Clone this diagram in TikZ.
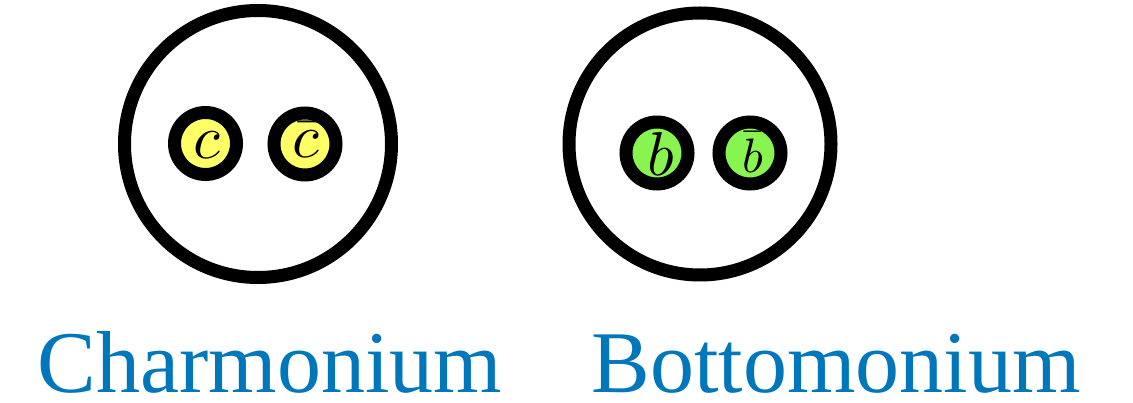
\documentclass[tikz,border=0pt]{standalone}
\usepackage{fontspec}
\setmainfont{Liberation Serif}
\definecolor{qyellow}{HTML}{FFFF66}
\definecolor{qgreen}{HTML}{88F450}
\definecolor{lblue}{HTML}{0077BB}
\begin{document}
\begin{tikzpicture}[x=1pt,y=-1pt,
  meson/.style={circle,draw=black,line width=13pt,fill=white,inner sep=0pt},
  quark/.style={circle,draw=black,line width=13pt,inner sep=0pt,minimum size=62pt},
  qlabel/.style={inner sep=0pt,scale=6.2},
  title/.style={anchor=base,text=lblue,inner sep=0pt,text depth=0pt,font=\fontsize{88}{90}\selectfont}]
\useasboundingbox (0,0) rectangle (1133,403);
\node[meson,minimum size=267pt] (charm) at (258,144) {};
\node[meson,minimum size=262pt] (bottom) at (700,144) {};
\node[quark,fill=qyellow] (c1) at (205.5,143.5) {};
\node[quark,fill=qyellow] (c2) at (305,144) {};
\node[quark,fill=qgreen] (b1) at (657,153) {};
\node[quark,fill=qgreen] (b2) at (750,153) {};
\node[qlabel] (lc1) at (207,145) {$c$};
\node[qlabel] (lc2) at (306,140) {$\bar{c}$};
\node[qlabel] (lb1) at (661,154) {$b$};
\node[qlabel,scale=0.78] (lb2) at (753,152) {$\bar{b}$};
\node[title] (ch) at (270,392) {Charmonium};
\node[title] (bo) at (836,392) {Bottomonium};
\end{tikzpicture}
\end{document}
